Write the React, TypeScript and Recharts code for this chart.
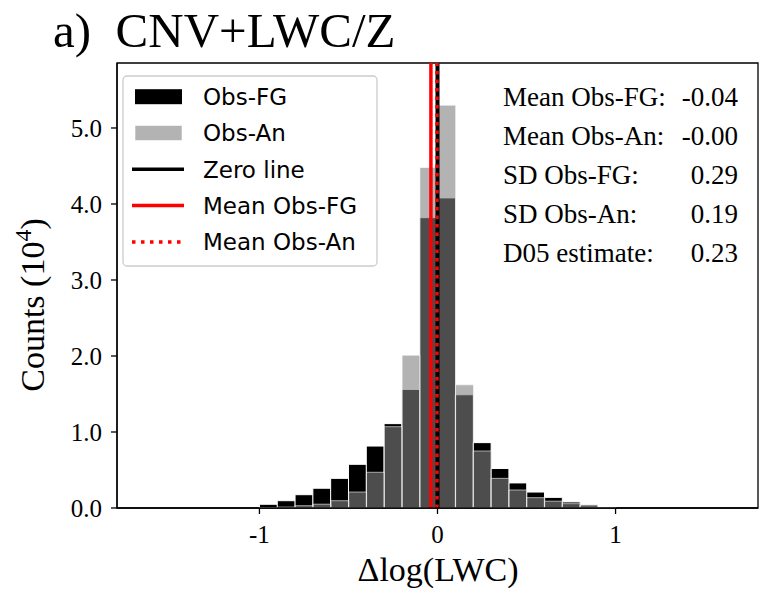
import { ComposedChart, Bar, XAxis, YAxis, ReferenceLine, ReferenceArea } from "recharts";

// histogram bins (centres), width 0.1
const binCenters = [
  -1.75, -1.65, -1.55, -1.45, -1.35, -1.25, -1.15, -1.05, -0.95, -0.85, -0.75, -0.65,
  -0.55, -0.45, -0.35, -0.25, -0.15, -0.05, 0.05, 0.15, 0.25, 0.35, 0.45, 0.55,
  0.65, 0.75, 0.85, 0.95, 1.05, 1.15, 1.25, 1.35, 1.45, 1.55, 1.65, 1.75,
];

// counts in units of 10^4
const obsFG = [
  0, 0, 0, 0, 0, 0, 0, 0, 0.049, 0.096, 0.175, 0.26,
  0.39, 0.575, 0.815, 1.11, 1.56, 3.82, 4.08, 1.49, 0.86, 0.52, 0.33, 0.21,
  0.14, 0.08, 0.044, 0, 0, 0, 0, 0, 0, 0, 0, 0,
];

const obsAn = [
  0, 0, 0, 0, 0, 0, 0, 0, 0.005, 0.012, 0.03, 0.05,
  0.096, 0.21, 0.47, 1.07, 2.01, 4.48, 5.3, 1.62, 0.75, 0.39, 0.237, 0.136,
  0.09, 0.057, 0.03, 0.008, 0, 0, 0, 0, 0, 0, 0, 0,
];

const xTicks = [-1, 0, 1];
const yTicks = [0, 1, 2, 3, 4, 5];
const xLim: [number, number] = [-1.8, 1.8];
const yLim: [number, number] = [0, 5.855];

const meanObsFG = -0.037;
const meanObsAn = -0.003;
const sdObsFG = 0.29;
const sdObsAn = 0.19;
const d05Estimate = 0.23;

const serif = "'Liberation Serif', 'Times New Roman', serif";
const sans = "'DejaVu Sans', sans-serif";

const data = binCenters.map((c, i) => ({ mid: c, fg: obsFG[i], an: obsAn[i] }));

const stats = [
  { label: "Mean Obs-FG:", value: meanObsFG.toFixed(2) },
  { label: "Mean Obs-An:", value: meanObsAn.toFixed(2) },
  { label: "SD Obs-FG:", value: sdObsFG.toFixed(2) },
  { label: "SD Obs-An:", value: sdObsAn.toFixed(2) },
  { label: "D05 estimate:", value: d05Estimate.toFixed(2) },
];

const legendItems = ["Obs-FG", "Obs-An", "Zero line", "Mean Obs-FG", "Mean Obs-An"];

function LegendHandle({ i, cy }: { i: number; cy: number }) {
  if (i === 0) return <rect x={135} y={cy - 7.5} width={47} height={15} fill="#000" />;
  if (i === 1)
    return (
      <rect x={135} y={cy - 7.5} width={47} height={15} fill="#808080" fillOpacity={0.6}
        stroke="#fff" strokeOpacity={0.6} strokeWidth={1} />
    );
  if (i === 2) return <line x1={132} x2={184} y1={cy} y2={cy} stroke="#000" strokeWidth={3.5} />;
  if (i === 3) return <line x1={132} x2={184} y1={cy} y2={cy} stroke="#f00" strokeWidth={3.5} />;
  return <line x1={132} x2={184} y1={cy} y2={cy} stroke="#f00" strokeWidth={3.5} strokeDasharray="3.5 5.5" />;
}

export default function App() {
  const axisLine = { stroke: "#000", strokeWidth: 1.3 };
  return (
    <div style={{ position: "absolute", left: 0, top: 0, width: 762, height: 594, background: "#fff" }}>
      <ComposedChart
        width={762}
        height={594}
        data={data}
        margin={{ top: 63, right: 4, bottom: 56, left: 57 }}
        barCategoryGap={0}
        barGap="-100%"
      >
        <XAxis
          dataKey="mid"
          type="number"
          domain={xLim}
          allowDataOverflow
          ticks={xTicks}
          height={30}
          tickSize={6}
          tickMargin={11}
          axisLine={axisLine}
          tickLine={axisLine}
          tick={{ fill: "#000", fontSize: 25, fontFamily: serif }}
          tickFormatter={(v) => String(v)}
        />
        <YAxis
          domain={yLim}
          allowDataOverflow
          ticks={yTicks}
          width={60}
          tickSize={6}
          tickMargin={9}
          axisLine={axisLine}
          tickLine={axisLine}
          tick={{ fill: "#000", fontSize: 25, fontFamily: serif }}
          tickFormatter={(v) => Number(v).toFixed(1)}
        />
        <Bar dataKey="fg" fill="#000" stroke="#fff" strokeWidth={1} isAnimationActive={false} />
        <Bar
          dataKey="an"
          fill="#808080"
          fillOpacity={0.6}
          stroke="#fff"
          strokeOpacity={0.6}
          strokeWidth={1}
          isAnimationActive={false}
        />
        <ReferenceLine x={0} stroke="#000" strokeWidth={4} ifOverflow="visible" />
        <ReferenceLine x={meanObsFG} stroke="#f00" strokeWidth={3.5} ifOverflow="visible" />
        <ReferenceLine x={meanObsAn} stroke="#f00" strokeWidth={3.5} strokeDasharray="3.5 5" ifOverflow="visible" />
        <ReferenceArea
          x1={xLim[0]}
          x2={xLim[1]}
          y1={yLim[0]}
          y2={yLim[1]}
          fill="none"
          fillOpacity={0}
          stroke="#000"
          strokeWidth={1.3}
          strokeOpacity={1}
          ifOverflow="visible"
        />
      </ComposedChart>

      <svg width={762} height={594} style={{ position: "absolute", left: 0, top: 0, pointerEvents: "none" }}>
        <text x={53} y={47} fontFamily={serif} fontSize={49} fill="#000" style={{ whiteSpace: "pre" }}>
          a)  CNV+LWC/Z
        </text>

        <text x={438} y={581} textAnchor="middle" fontFamily={serif} fontSize={34} fill="#000">
          Δlog(LWC)
        </text>
        <text transform="translate(44,305) rotate(-90)" textAnchor="middle" fontFamily={serif} fontSize={34} fill="#000">
          Counts (10<tspan fontSize={24} dy={-13}>4</tspan>
          <tspan dy={13}>)</tspan>
        </text>

        <rect x={123} y={76} width={254} height={190} rx={4} fill="#fff" fillOpacity={0.8} stroke="#cccccc" strokeWidth={1.3} />
        {legendItems.map((name, i) => {
          const cy = 96.7 + i * 36.3;
          return (
            <g key={name}>
              <LegendHandle i={i} cy={cy} />
              <text x={203} y={cy + 8.4} fontFamily={sans} fontSize={23} fill="#000">
                {name}
              </text>
            </g>
          );
        })}

        {stats.map((s, i) => {
          const y = 106 + i * 39;
          return (
            <g key={s.label}>
              <text x={503} y={y} fontFamily={serif} fontSize={27} fill="#000">
                {s.label}
              </text>
              <text x={738} y={y} textAnchor="end" fontFamily={serif} fontSize={27} fill="#000">
                {s.value}
              </text>
            </g>
          );
        })}
      </svg>
    </div>
  );
}
